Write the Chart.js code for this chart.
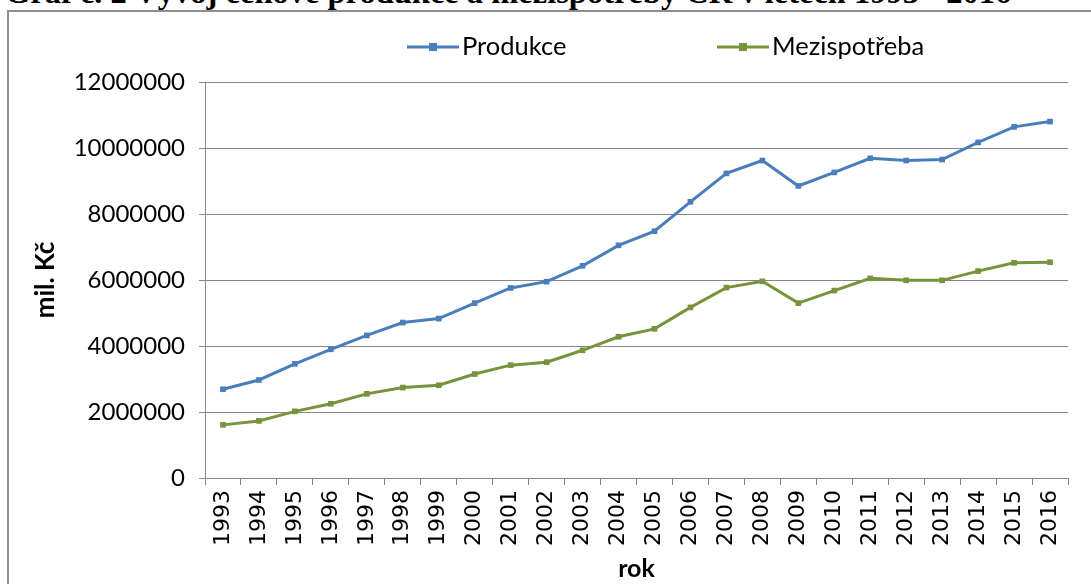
<!DOCTYPE html>
<html>
<head>
<meta charset="utf-8">
<script src="https://cdn.jsdelivr.net/npm/chart.js@4"></script>
<style>
  html, body { margin: 0; padding: 0; background: #fff; overflow: hidden; }
  #wrap { position: relative; width: 1091px; height: 584px; overflow: hidden; }
  #frame { position: absolute; left: 7px; top: 10px; width: 1200px; height: 700px; border: 2px solid #8f8f8f; }
  #heading { position: absolute; left: 5px; top: -24px; white-space: nowrap;
    font: bold 32.5px "Liberation Serif", "Times New Roman", serif; line-height: 32px; color: #000; }
  #c { position: absolute; left: 0; top: 0; }
</style>
</head>
<body>
<div id="wrap">
  <div id="heading">Graf č. 2 Vývoj cenové produkce a mezispotřeby ČR v letech 1993 - 2016</div>
  <div id="frame"></div>
  <canvas id="c" width="1091" height="584"></canvas>
</div>
<script>
// years on x axis
const years = ['1993','1994','1995','1996','1997','1998','1999','2000','2001','2002','2003','2004',
  '2005','2006','2007','2008','2009','2010','2011','2012','2013','2014','2015','2016']
// mil. Kč
const produkce = [2690000, 2970000, 3460000, 3900000, 4320000, 4710000, 4830000, 5300000, 5760000, 5950000,
  6430000, 7050000, 7480000, 8370000, 9230000, 9620000, 8850000, 9260000, 9690000, 9620000,
  9650000, 10170000, 10640000, 10800000]
const mezispotreba = [1610000, 1730000, 2020000, 2250000, 2550000, 2740000, 2810000, 3150000, 3420000, 3510000,
  3870000, 4280000, 4520000, 5170000, 5770000, 5960000, 5300000, 5680000, 6050000, 5990000,
  5990000, 6270000, 6520000, 6540000]
const yTicks = [0, 2000000, 4000000, 6000000, 8000000, 10000000, 12000000]

const blue = '#4a7ebb'
const green = '#77933c'
const gridColor = '#868686'
const labelFont = 'Lato, "Open Sans", sans-serif'

// legend drawn like the Excel one: line with a marker in the middle
const lineLegend = {
  id: 'lineLegend',
  afterDraw(chart) {
    const ctx = chart.ctx
    const spots = [407, 717]
    ctx.save()
    chart.data.datasets.forEach((ds, i) => {
      const x = spots[i], y = 47
      ctx.strokeStyle = ds.borderColor
      ctx.lineWidth = 3
      ctx.beginPath()
      ctx.moveTo(x, y)
      ctx.lineTo(x + 52, y)
      ctx.stroke()
      ctx.fillStyle = ds.borderColor
      ctx.fillRect(x + 22, y - 4, 8, 8)
      ctx.fillStyle = '#000'
      ctx.font = '25.5px ' + labelFont
      ctx.textBaseline = 'middle'
      ctx.fillText(ds.label, x + 55, y)
    })
    ctx.restore()
  }
}

new Chart(document.getElementById('c'), {
  type: 'line',
  data: {
    labels: years,
    datasets: [
      { label: 'Produkce', data: produkce, borderColor: blue, backgroundColor: blue,
        borderWidth: 3, pointStyle: 'rect', pointRadius: 4, pointBorderWidth: 0, tension: 0 },
      { label: 'Mezispotřeba', data: mezispotreba, borderColor: green, backgroundColor: green,
        borderWidth: 3, pointStyle: 'rect', pointRadius: 4, pointBorderWidth: 0, tension: 0 }
    ]
  },
  options: {
    responsive: false,
    animation: false,
    layout: { padding: { top: 82, right: 23, left: 30, bottom: 0 } },
    plugins: { legend: { display: false }, tooltip: { enabled: false } },
    scales: {
      x: {
        offset: true,
        grid: { offset: true, drawOnChartArea: false, drawTicks: true, tickLength: 7, color: gridColor },
        border: { color: gridColor, width: 1 },
        ticks: { minRotation: 90, maxRotation: 90, autoSkip: false, color: '#000', padding: 5,
          font: { family: 'DejaVu Sans', size: 22 } },
        title: { display: true, text: 'rok', color: '#000', padding: { top: 0, bottom: 0 },
          font: { family: labelFont, size: 25, weight: 'bold' } },
        afterFit(scale) { scale.height = 584 - 478 }
      },
      y: {
        min: 0, max: 12000000,
        afterBuildTicks(scale) { scale.ticks = yTicks.map(v => ({ value: v })) },
        grid: { color: gridColor, tickLength: 6 },
        border: { color: gridColor, width: 1 },
        ticks: { color: '#000', padding: 14, font: { family: labelFont, size: 24 },
          callback: v => String(v) },
        title: { display: true, text: 'mil. Kč', color: '#000', padding: { top: 0, bottom: 0 },
          font: { family: labelFont, size: 26, weight: 'bold' } },
        afterFit(scale) { scale.width = 205 - 30 }
      }
    }
  },
  plugins: [lineLegend]
})
</script>
</body>
</html>
